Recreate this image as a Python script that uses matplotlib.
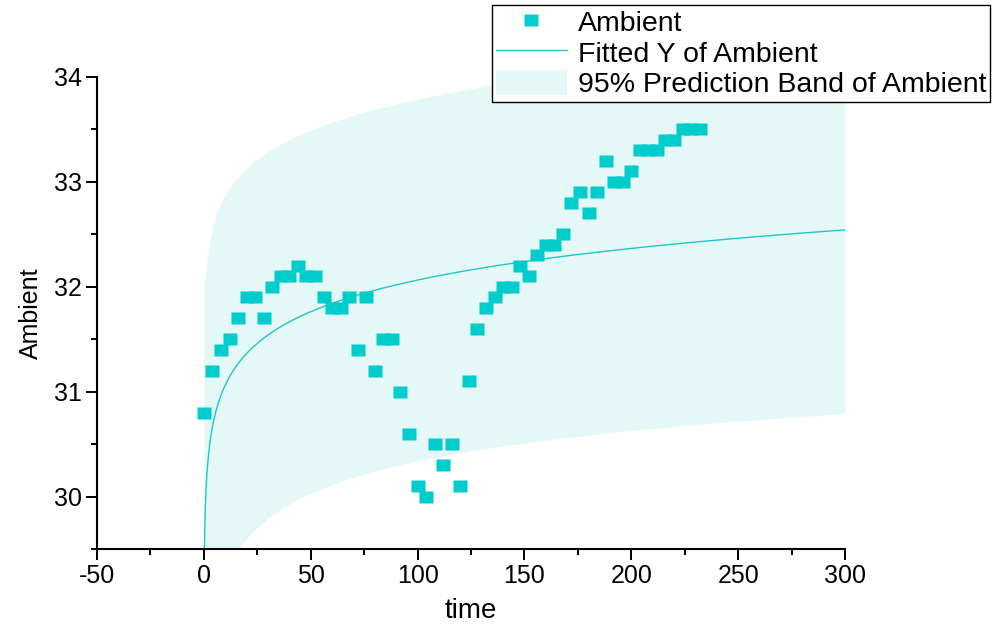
import matplotlib
matplotlib.use("Agg")
import matplotlib.pyplot as plt
from matplotlib.ticker import MultipleLocator
import numpy as np

# ── Data ────────────────────────────────────────────────────────────────────
time = [0, 4, 8, 12, 16, 20, 24, 28, 32, 36, 40, 44, 48, 52, 56, 60, 64, 68,
        72, 76, 80, 84, 88, 92, 96, 100, 104, 108, 112, 116, 120, 124, 128,
        132, 136, 140, 144, 148, 152, 156, 160, 164, 168, 172, 176, 180, 184,
        188, 192, 196, 200, 204, 208, 212, 216, 220, 224, 228, 232]
ambient = [30.8, 31.2, 31.4, 31.5, 31.7, 31.9, 31.9, 31.7, 32.0, 32.1, 32.1,
           32.2, 32.1, 32.1, 31.9, 31.8, 31.8, 31.9, 31.4, 31.9, 31.2, 31.5,
           31.5, 31.0, 30.6, 30.1, 30.0, 30.5, 30.3, 30.5, 30.1, 31.1, 31.6,
           31.8, 31.9, 32.0, 32.0, 32.2, 32.1, 32.3, 32.4, 32.4, 32.5, 32.8,
           32.9, 32.7, 32.9, 33.2, 33.0, 33.0, 33.1, 33.3, 33.3, 33.3, 33.4,
           33.4, 33.5, 33.5, 33.5]

x_ticks = [-50, 0, 50, 100, 150, 200, 250, 300]
y_ticks = [30, 31, 32, 33, 34]

# ── Palette ─────────────────────────────────────────────────────────────────
C_PT = "#00CCCC"
C_LINE = "#1FC6C9"
C_BAND = "#E4F8F7"

XLIM = (-50, 300)
YLIM = (29.5, 34)

# ── Log fit y = a + b*ln(t) with 95% prediction band ────────────────────────
t = np.array(time, float)
y = np.array(ambient, float)
keep = t > 0
lx, ly = np.log(t[keep]), y[keep]
b, a = np.polyfit(lx, ly, 1)
n = lx.size
s = np.sqrt(np.sum((ly - (a + b * lx)) ** 2) / (n - 2))
T_CRIT = 2.003  # t(0.975, n-2)
xbar = lx.mean()
sxx = np.sum((lx - xbar) ** 2)

t_line = np.concatenate([np.geomspace(1e-4, 1, 80), np.linspace(1, 300, 900)[1:]])
fit_line = a + b * np.log(t_line)

t_band = np.concatenate([np.geomspace(0.8, 3, 30), np.linspace(3, 300, 400)[1:]])
fit_band = a + b * np.log(t_band)
half = T_CRIT * s * np.sqrt(1 + 1 / n + (np.log(t_band) - xbar) ** 2 / sxx)
lo = np.maximum(fit_band - half, YLIM[0])
hi = fit_band + half

# ── Figure ──────────────────────────────────────────────────────────────────
plt.rcParams["font.family"] = ["Liberation Sans", "DejaVu Sans"]
fig = plt.figure(figsize=(9.97, 6.25), dpi=100)
ax = fig.add_axes([97 / 997, 1 - 549 / 625, 748 / 997, 472 / 625])

band = ax.fill_between(np.r_[0, t_band], np.r_[lo[0], lo], np.r_[hi[0], hi],
                       color=C_BAND, lw=0, zorder=1, clip_on=False,
                       label="95% Prediction Band of Ambient")
line, = ax.plot(t_line, fit_line, color=C_LINE, lw=1.0, zorder=2,
                label="Fitted Y of Ambient")
rect = [(-1, -0.78), (1, -0.78), (1, 0.78), (-1, 0.78), (-1, -0.78)]
pts, = ax.plot(time, ambient, ls="none", marker=rect, ms=10.2,
               mfc=C_PT, mec="none", zorder=3, label="Ambient")

ax.set_xlim(*XLIM)
ax.set_ylim(*YLIM)
ax.set_xticks(x_ticks)
ax.set_yticks(y_ticks)
ax.set_xticklabels([str(v) for v in x_ticks])
ax.xaxis.set_minor_locator(MultipleLocator(25))
ax.yaxis.set_minor_locator(MultipleLocator(0.5))

for side in ["top", "right"]:
    ax.spines[side].set_visible(False)
for side in ["left", "bottom"]:
    ax.spines[side].set_linewidth(1.5)
ax.tick_params(which="major", direction="out", length=8, width=1.4,
               labelsize=18, pad=3)
ax.tick_params(which="minor", direction="out", length=4.5, width=1.4)

ax.set_xlabel("time", fontsize=20, labelpad=7)
ax.set_ylabel("Ambient", fontsize=18, labelpad=8)

leg = fig.legend(handles=[pts, line, band],
                 loc="upper right", bbox_to_anchor=(0.993, 0.992),
                 fontsize=20.5, frameon=True, fancybox=False,
                 edgecolor="black", framealpha=1, borderpad=0.12,
                 labelspacing=0.08, handlelength=2.5, handleheight=1.0,
                 handletextpad=0.4, borderaxespad=0.0)
leg.get_frame().set_linewidth(1.0)

fig.savefig("out.png", dpi=100)
